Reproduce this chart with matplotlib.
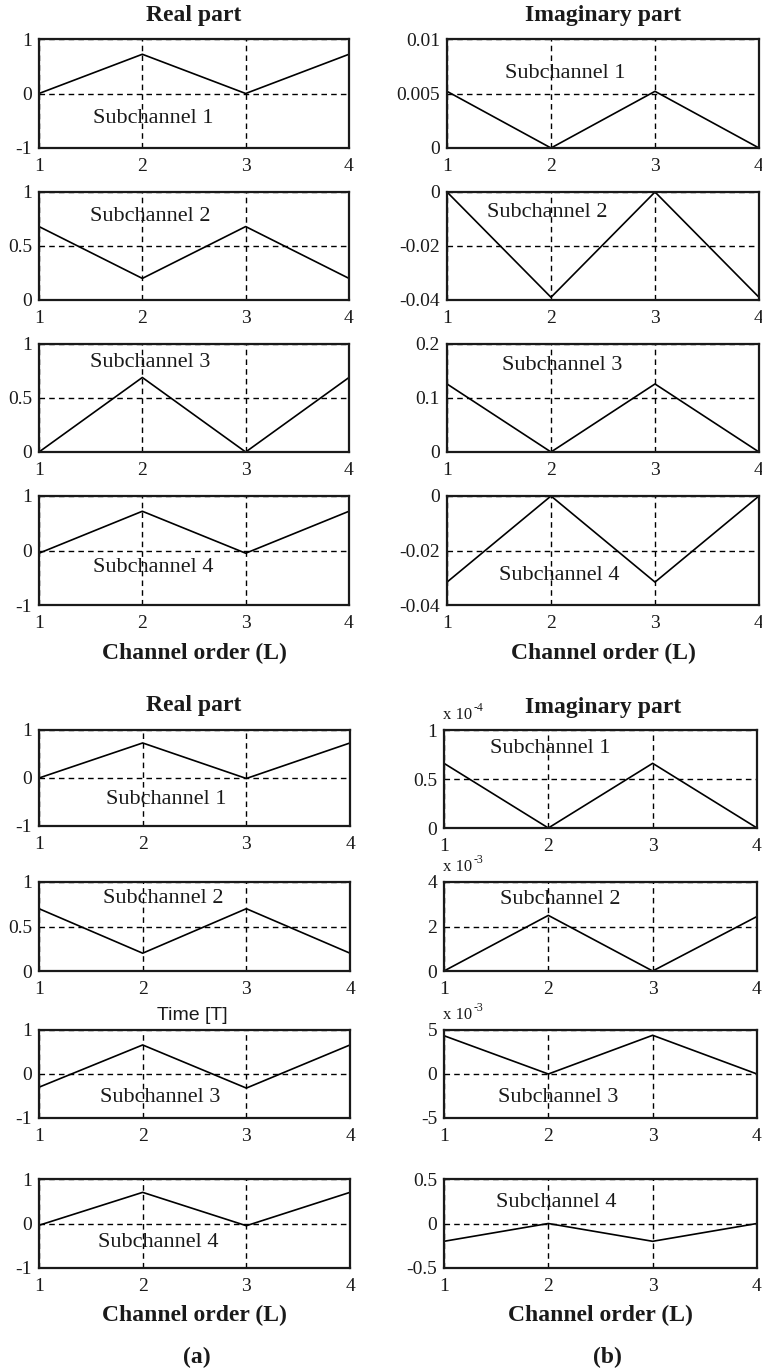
import matplotlib.pyplot as plt

plt.rcParams['font.family'] = ['Liberation Serif', 'DejaVu Serif']

order = [1, 2, 3, 4]
order_labels = ['1', '2', '3', '4']

# (a) channel coefficients, real part
real_a_sub1 = [0.0, 0.72, 0.0, 0.72]
real_a_sub2 = [0.68, 0.2, 0.68, 0.2]
real_a_sub3 = [0.0, 0.69, 0.0, 0.69]
real_a_sub4 = [-0.05, 0.72, -0.05, 0.72]

# (a) imaginary part
imag_a_sub1 = [0.0052, 0.0, 0.0052, 0.0]
imag_a_sub2 = [0.0, -0.039, 0.0, -0.039]
imag_a_sub3 = [0.126, 0.0, 0.126, 0.0]
imag_a_sub4 = [-0.0316, 0.0, -0.0316, 0.0]

# (b) real part
real_b_sub1 = [0.0, 0.73, -0.01, 0.73]
real_b_sub2 = [0.7, 0.2, 0.7, 0.2]
real_b_sub3 = [-0.3, 0.66, -0.32, 0.66]
real_b_sub4 = [-0.04, 0.7, -0.05, 0.7]

# (b) imaginary part (true units)
imag_b_sub1 = [0.66e-4, 0.0, 0.66e-4, 0.0]
imag_b_sub2 = [0.0, 2.5e-3, 0.0, 2.45e-3]
imag_b_sub3 = [4.35e-3, 0.0, 4.4e-3, 0.0]
imag_b_sub4 = [-0.2, 0.0, -0.2, 0.0]

# y ticks / tick labels per panel
ticks_pm1 = [-1, 0, 1]
labels_pm1 = ['-1', '0', '1']
ticks_01 = [0, 0.5, 1]
labels_01 = ['0', '0.5', '1']

W, H = 762, 1372


def box(l, t, r, b):
    return [l / W, 1 - b / H, (r - l) / W, (b - t) / H]


# each panel: (box px, values, yticks, yticklabels, label, label pos (axes frac), exponent)
panels = [
    # upper block (a)
    ((39, 39, 349, 148), real_a_sub1, ticks_pm1, labels_pm1, 'Subchannel 1', (0.37, 0.275), None),
    ((39, 192, 349, 300), real_a_sub2, ticks_01, labels_01, 'Subchannel 2', (0.36, 0.77), None),
    ((39, 344, 349, 452), real_a_sub3, ticks_01, labels_01, 'Subchannel 3', (0.36, 0.83), None),
    ((39, 496, 349, 605), real_a_sub4, ticks_pm1, labels_pm1, 'Subchannel 4', (0.37, 0.34), None),
    ((447, 39, 759, 148), imag_a_sub1, [0, 0.005, 0.01], ['0', '0.005', '0.01'], 'Subchannel 1', (0.38, 0.68), None),
    ((447, 192, 759, 300), imag_a_sub2, [-0.04, -0.02, 0], ['-0.04', '-0.02', '0'], 'Subchannel 2', (0.32, 0.81), None),
    ((447, 344, 759, 452), imag_a_sub3, [0, 0.1, 0.2], ['0', '0.1', '0.2'], 'Subchannel 3', (0.37, 0.80), None),
    ((447, 496, 759, 605), imag_a_sub4, [-0.04, -0.02, 0], ['-0.04', '-0.02', '0'], 'Subchannel 4', (0.36, 0.27), None),
    # lower block (b)
    ((39, 730, 350, 826), real_b_sub1, ticks_pm1, labels_pm1, 'Subchannel 1', (0.41, 0.28), None),
    ((39, 882, 350, 971), real_b_sub2, ticks_01, labels_01, 'Subchannel 2', (0.40, 0.81), None),
    ((39, 1030, 350, 1118), real_b_sub3, ticks_pm1, labels_pm1, 'Subchannel 3', (0.39, 0.23), None),
    ((39, 1179, 350, 1268), real_b_sub4, ticks_pm1, labels_pm1, 'Subchannel 4', (0.385, 0.29), None),
    ((444, 730, 757, 828), imag_b_sub1, [0, 0.5e-4, 1e-4], ['0', '0.5', '1'], 'Subchannel 1', (0.34, 0.81), '-4'),
    ((444, 882, 757, 971), imag_b_sub2, [0, 2e-3, 4e-3], ['0', '2', '4'], 'Subchannel 2', (0.37, 0.80), '-3'),
    ((444, 1030, 757, 1118), imag_b_sub3, [-5e-3, 0, 5e-3], ['-5', '0', '5'], 'Subchannel 3', (0.365, 0.23), '-3'),
    ((444, 1179, 757, 1268), imag_b_sub4, [-0.5, 0, 0.5], ['-0.5', '0', '0.5'], 'Subchannel 4', (0.36, 0.74), None),
]

ink = '#1a1a1a'
fig = plt.figure(figsize=(7.62, 13.72), dpi=100)

for rect, vals, yt, ytl, name, (tx, ty), expo in panels:
    ax = fig.add_axes(box(*rect))
    ax.plot(order, vals, color='black', linewidth=1.2)
    ax.set_xlim(1, 4)
    ax.set_ylim(yt[0], yt[-1])
    ax.set_xticks(order)
    ax.set_xticklabels(order_labels)
    ax.set_yticks(yt)
    ax.set_yticklabels(ytl)
    ax.tick_params(length=0, labelsize=14, colors=ink)
    ax.tick_params(axis='x', pad=7)
    ax.tick_params(axis='y', pad=5)
    ax.grid(True, color='black', linestyle=(0, (4, 3)), linewidth=1.0)
    for s in ax.spines.values():
        s.set_linewidth(1.6)
        s.set_color(ink)
    ax.text(tx, ty, name, transform=ax.transAxes, ha='center', va='center',
            fontsize=16, color=ink)
    if expo is not None:
        # MATLAB style exponent label above the y axis
        ax.annotate('x 10', xy=(0, 1), xycoords='axes fraction',
                    xytext=(-1, 8), textcoords='offset points', ha='left', va='baseline',
                    fontsize=12, color=ink)
        ax.annotate(expo, xy=(0, 1), xycoords='axes fraction',
                    xytext=(21.5, 14), textcoords='offset points', ha='left', va='baseline',
                    fontsize=8.5, color=ink)

bold = dict(fontsize=17, fontweight='bold', ha='center', va='center', color=ink)
fig.text(194 / W, 1 - 16 / H, 'Real part', **bold)
fig.text(603 / W, 1 - 16 / H, 'Imaginary part', **bold)
fig.text(194 / W, 1 - 653 / H, 'Channel order (L)', **bold)
fig.text(603 / W, 1 - 653 / H, 'Channel order (L)', **bold)

fig.text(194 / W, 1 - 705 / H, 'Real part', **bold)
fig.text(603 / W, 1 - 708 / H, 'Imaginary part', **bold)
fig.text(194 / W, 1 - 1315 / H, 'Channel order (L)', **bold)
fig.text(600 / W, 1 - 1315 / H, 'Channel order (L)', **bold)
fig.text(197 / W, 1 - 1357 / H, '(a)', **bold)
fig.text(607 / W, 1 - 1357 / H, '(b)', **bold)

fig.text(192 / W, 1 - 1015 / H, 'Time [T]', family='Liberation Sans', fontsize=14,
         ha='center', va='center', color=ink)

fig.savefig('out.png', dpi=100, facecolor='white')
